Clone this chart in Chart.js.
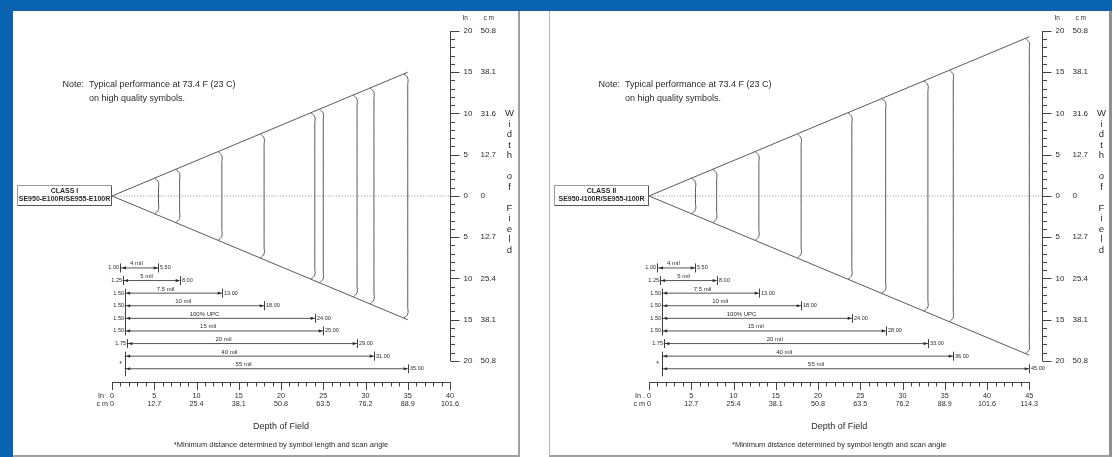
<!DOCTYPE html>
<html>
<head>
<meta charset="utf-8">
<script src="https://cdn.jsdelivr.net/npm/chart.js@4.4.1/dist/chart.umd.min.js"></script>
<style>
  body { margin: 0; width: 1112px; height: 457px; background: #fff; position: relative; overflow: hidden; }
  .blue { position: absolute; background: #0b64b2; }
  .panel { position: absolute; box-sizing: border-box; }
  canvas { position: absolute; }
</style>
</head>
<body>
<div class="blue" style="left:0;top:0;width:1112px;height:11px"></div>
<div class="blue" style="left:0;top:0;width:13px;height:457px"></div>
<div class="panel" style="left:13px;top:11px;width:507px;height:446px;border-right:2px solid #a0a0a0;border-bottom:2px solid #a0a0a0"></div>
<div class="panel" style="left:549px;top:11px;width:563px;height:446px;border-left:1px solid #b4b4b4;border-right:3px solid #909090;border-bottom:2px solid #a0a0a0"></div>
<canvas id="classI" width="504" height="444" style="left:14px;top:11px"></canvas>
<canvas id="classII" width="560" height="444" style="left:550px;top:11px"></canvas>

<script>
// symbol rows (same for both scanners)
const symbols = ['4 mil', '5 mil', '7.5 mil', '10 mil', '100% UPC', '15 mil', '20 mil', '40 mil', '55 mil'];
const nearLabels = ['1.00', '1.25', '1.50', '1.50', '1.50', '1.50', '1.75', '*', '*'];
const nearIn = [1.00, 1.25, 1.50, 1.50, 1.50, 1.50, 1.75, 1.50, 1.50];

// far working range, inches
const farClassI = [5.5, 8, 13, 18, 24, 25, 29, 31, 35];
const farClassII = [5.5, 8, 13, 18, 24, 28, 33, 36, 45];

// half width of the scan cone at its far end, inches
const coneHalfI = 15;
const coneHalfII = 19.3;

// depth axis ticks
const depthInI = [0, 5, 10, 15, 20, 25, 30, 35, 40];
const depthCmI = ['0', '12.7', '25.4', '38.1', '50.8', '63.5', '76.2', '88.9', '101.6'];
const depthInII = [0, 5, 10, 15, 20, 25, 30, 35, 40, 45];
const depthCmII = ['0', '12.7', '25.4', '38.1', '50.8', '63.5', '76.2', '88.9', '101.6', '114.3'];

// width axis ticks
const widthIn = [20, 15, 10, 5, 0, -5, -10, -15, -20];
const widthInLabels = ['20', '15', '10', '5', '0', '5', '10', '15', '20'];
const widthCmLabels = ['50.8', '38.1', '31.6', '12.7', '0', '12.7', '25.4', '38.1', '50.8'];

const INK = '#2b2b2b';
const LINE = '#5a5a5a';
const FAMILY = '"Liberation Sans", Arial, Helvetica, sans-serif';

function setFont(ctx, size, bold) {
  ctx.font = (bold ? 'bold ' : '') + size + 'px ' + FAMILY;
}

function drawDecor(chart, p) {
  const ctx = chart.ctx;
  const xs = chart.scales.x, ys = chart.scales.y, rs = chart.scales.rows;
  const area = chart.chartArea;
  ctx.save();
  ctx.fillStyle = INK;
  ctx.strokeStyle = INK;
  ctx.textBaseline = 'middle';

  // note
  setFont(ctx, 9);
  ctx.textAlign = 'left';
  ctx.fillText('Note:  Typical performance at 73.4 F (23 C)', 48.5, 74);
  const indent = ctx.measureText('Note:  ').width;
  ctx.fillText('on high quality symbols.', 48.5 + indent, 88);

  // scanner box
  const y0 = ys.getPixelForValue(0);
  const bw = 95, bh = 21, bx = area.left - bw, by = Math.round(y0 - bh / 2);
  ctx.fillStyle = '#fff';
  ctx.fillRect(bx, by, bw, bh);
  ctx.lineWidth = 1;
  ctx.strokeStyle = '#9a9a9a';
  ctx.strokeRect(bx + 0.5, by + 0.5, bw - 1, bh - 1);
  ctx.strokeStyle = '#555';
  ctx.beginPath();
  ctx.moveTo(bx + bw - 0.5, by + 1); ctx.lineTo(bx + bw - 0.5, by + bh - 0.5); ctx.lineTo(bx + 1, by + bh - 0.5);
  ctx.stroke();
  ctx.fillStyle = INK;
  ctx.textAlign = 'center';
  setFont(ctx, 7, true);
  ctx.fillText(p.title, bx + bw / 2, y0 - 4.5);
  ctx.fillText(p.model, bx + bw / 2, y0 + 3.5);

  // depth axis
  const axY = area.bottom;
  const last = p.depthIn[p.depthIn.length - 1];
  ctx.strokeStyle = '#444';
  ctx.lineWidth = 1;
  ctx.beginPath();
  ctx.moveTo(xs.getPixelForValue(0), Math.round(axY) + 0.5);
  ctx.lineTo(xs.getPixelForValue(last) + 0.5, Math.round(axY) + 0.5);
  for (let d = 0; d <= last; d++) {
    const x = Math.round(xs.getPixelForValue(d)) + 0.5;
    ctx.moveTo(x, Math.round(axY));
    ctx.lineTo(x, Math.round(axY) + (d % 5 ? 4.5 : 8));
  }
  ctx.stroke();
  setFont(ctx, 7.2);
  ctx.textAlign = 'center';
  p.depthIn.forEach((v, i) => {
    const x = xs.getPixelForValue(v);
    ctx.fillText(String(v), x, axY + 14);
    ctx.fillText(p.depthCm[i], x, axY + 22.5);
  });
  ctx.textAlign = 'right';
  const x0 = xs.getPixelForValue(0);
  ctx.fillText('In .', x0 - 4, axY + 14);
  ctx.fillText('c m', x0 - 4, axY + 22.5);

  const midX = (x0 + xs.getPixelForValue(last)) / 2;
  ctx.textAlign = 'center';
  setFont(ctx, 9);
  ctx.fillText('Depth of Field', midX, axY + 45);
  setFont(ctx, 7.5);
  ctx.fillText('*Minimum distance determined by symbol length and scan angle', midX, axY + 63);

  // width axis
  const ax = Math.round(area.right) + 0.5;
  const yt = ys.getPixelForValue(20), yb = ys.getPixelForValue(-20);
  ctx.beginPath();
  ctx.moveTo(ax, yt); ctx.lineTo(ax, yb);
  for (let w = -20; w <= 20; w++) {
    const y = Math.round(ys.getPixelForValue(w)) + 0.5;
    ctx.moveTo(ax, y);
    ctx.lineTo(ax + (w % 5 ? 4.5 : 9), y);
  }
  ctx.stroke();
  setFont(ctx, 8);
  ctx.textAlign = 'left';
  widthIn.forEach((v, i) => {
    const y = ys.getPixelForValue(v);
    ctx.fillText(widthInLabels[i], ax + 13, y);
    ctx.fillText(widthCmLabels[i], ax + 30, y);
  });
  setFont(ctx, 6.5);
  ctx.fillText('In .', ax + 12, yt - 13);
  ctx.fillText('c m', ax + 33, yt - 13);

  setFont(ctx, 9.5);
  ctx.textAlign = 'center';
  const letters = 'Width of Field'.split('');
  let ly = ys.getPixelForValue(10);
  letters.forEach(ch => {
    if (ch !== ' ') ctx.fillText(ch, ax + 59, ly);
    ly += 10.5;
  });

  // symbol rows: end bars, arrow heads, labels
  const n = symbols.length;
  const rowY = i => rs.getPixelForValue(i);
  ctx.lineWidth = 0.9;
  ctx.strokeStyle = INK;
  let i = 0;
  while (i < n) {
    let j = i;
    while (j + 1 < n && nearLabels[j + 1] === nearLabels[i] && nearIn[j + 1] === nearIn[i]) j++;
    const x = Math.round(xs.getPixelForValue(nearIn[i])) + 0.5;
    const star = nearLabels[i] === '*';
    ctx.beginPath();
    ctx.moveTo(x, rowY(i) - 4.5);
    ctx.lineTo(x, rowY(j) + (star ? 7.5 : 4.5));
    ctx.stroke();
    ctx.textAlign = 'right';
    if (star) {
      setFont(ctx, 7);
      ctx.fillText('*', x - 3.5, (rowY(i) + rowY(j)) / 2 + 1.5);
    } else {
      setFont(ctx, 5.5);
      for (let k = i; k <= j; k++) ctx.fillText(nearLabels[k], x - 1.5, rowY(k));
    }
    i = j + 1;
  }
  for (let k = 0; k < n; k++) {
    const y = rowY(k);
    const xn = xs.getPixelForValue(nearIn[k]);
    const xf = Math.round(xs.getPixelForValue(p.far[k])) + 0.5;
    ctx.beginPath();
    ctx.moveTo(xf, y - 4.5); ctx.lineTo(xf, y + 4.5);
    ctx.stroke();
    ctx.beginPath();
    ctx.moveTo(xn + 1.5, y); ctx.lineTo(xn + 5.5, y - 1.6); ctx.lineTo(xn + 5.5, y + 1.6); ctx.closePath();
    ctx.moveTo(xf - 0.8, y); ctx.lineTo(xf - 4.8, y - 1.6); ctx.lineTo(xf - 4.8, y + 1.6); ctx.closePath();
    ctx.fill();
    setFont(ctx, 5.5);
    ctx.textAlign = 'left';
    ctx.fillText(p.far[k].toFixed(2), xf + 1.5, y);
    setFont(ctx, 6);
    ctx.textAlign = 'center';
    ctx.fillText(symbols[k], xs.getPixelForValue(nearIn[k] + 0.42 * (p.far[k] - nearIn[k])), y - 4.2);
  }
  ctx.restore();
}

function makePanel(id, p) {
  const farEnd = Math.max(...p.far);
  const slope = p.coneHalf / farEnd;
  const datasets = [];
  // centre line
  datasets.push({ data: [{ x: 0, y: 0 }, { x: p.xMax, y: 0 }], borderColor: '#8a8a8a', borderWidth: 0.8, borderDash: [1.2, 1.6] });
  // cone edges
  datasets.push({ data: [{ x: farEnd, y: p.coneHalf }, { x: 0, y: 0 }, { x: farEnd, y: -p.coneHalf }], borderColor: LINE, borderWidth: 1 });
  // range limits across the cone
  p.far.forEach(d => {
    const w = slope * d, d0 = d - 0.45;
    datasets.push({
      data: [{ x: d0, y: slope * d0 }, { x: d, y: w - 0.7 }, { x: d, y: w - 1.5 },
             { x: d, y: -(w - 1.5) }, { x: d, y: -(w - 0.7) }, { x: d0, y: -slope * d0 }],
      borderColor: LINE, borderWidth: 1, tension: 0.4
    });
  });
  // working ranges per symbol
  symbols.forEach((s, i) => {
    datasets.push({ label: s, data: [{ x: nearIn[i], y: i }, { x: p.far[i], y: i }], yAxisID: 'rows', borderColor: INK, borderWidth: 0.8 });
  });
  datasets.forEach(d => { d.showLine = true; d.pointRadius = 0; d.fill = false; });

  new Chart(document.getElementById(id), {
    type: 'scatter',
    data: { datasets },
    options: {
      responsive: false,
      animation: false,
      events: [],
      layout: { padding: { left: p.padLeft, right: 68, top: 7.6, bottom: 73.4 } },
      scales: {
        x: { type: 'linear', min: 0, max: p.xMax, display: false },
        y: { type: 'linear', min: -22.5, max: 21.5, display: false },
        rows: { type: 'linear', axis: 'y', min: -19.79, max: 9.02, reverse: true, display: false }
      },
      plugins: { legend: { display: false }, tooltip: { enabled: false } }
    },
    plugins: [{ id: 'decor', afterDraw: chart => drawDecor(chart, p) }]
  });
}

makePanel('classI', {
  title: 'CLASS I', model: 'SE950-E100R/SE955-E100R',
  far: farClassI, coneHalf: coneHalfI, depthIn: depthInI, depthCm: depthCmI,
  xMax: 40, padLeft: 98
});
makePanel('classII', {
  title: 'CLASS II', model: 'SE950-I100R/SE955-I100R',
  far: farClassII, coneHalf: coneHalfII, depthIn: depthInII, depthCm: depthCmII,
  xMax: 46.5, padLeft: 99
});
</script>
</body>
</html>
